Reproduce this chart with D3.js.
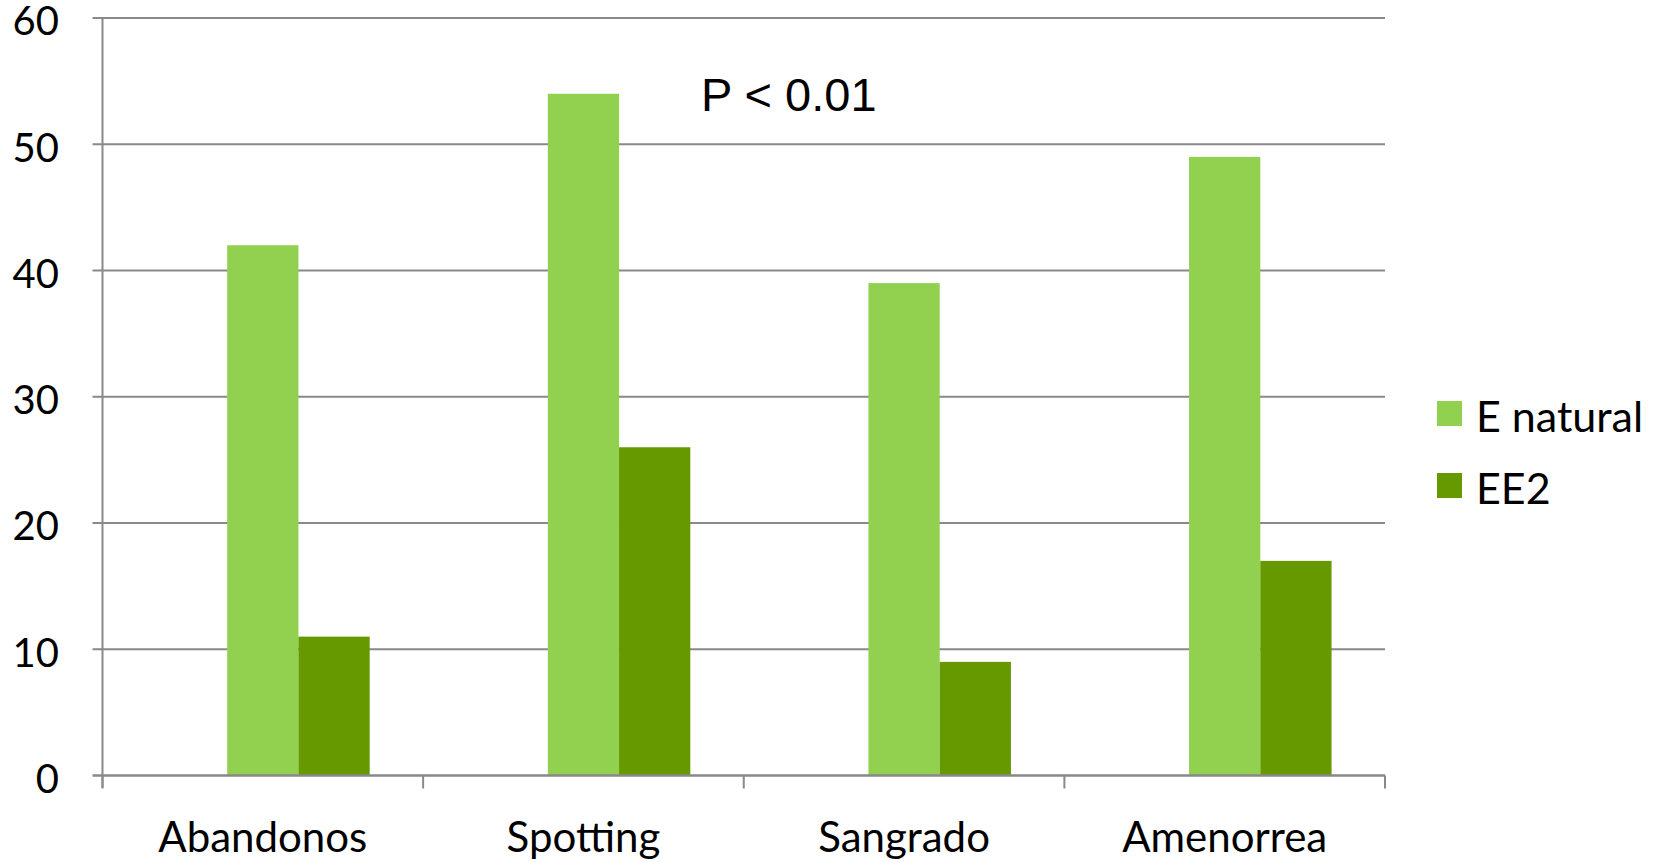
<!DOCTYPE html>
<html>
<head>
<meta charset="utf-8">
<script src="https://cdn.jsdelivr.net/npm/d3@7"></script>
<style>
  html, body { margin: 0; padding: 0; background: #fff; }
  svg text { font-family: Lato, "Open Sans", sans-serif; fill: #000; }
</style>
</head>
<body>
<svg id="chart" width="1659" height="862"></svg>
<script>
// Categories and series values
const categories = ["Abandonos", "Spotting", "Sangrado", "Amenorrea"];
const seriesNames = ["E natural", "EE2"];
const eNatural = [42, 54, 39, 49];
const ee2 = [11, 26, 9, 17];
const yTicks = [0, 10, 20, 30, 40, 50, 60];
const seriesColors = ["#92D050", "#669900"];
const annotation = "P < 0.01";

const svg = d3.select("#chart");
const margin = { left: 102.5, right: 1385, top: 18, bottom: 775.5 };

const x0 = d3.scaleBand()
  .domain(categories)
  .range([margin.left, margin.right])
  .paddingInner(0).paddingOuter(0);

// Three slots per category (first slot left empty), gap width 150%
const x1 = d3.scaleBand()
  .domain([0, 1, 2])
  .range([0, x0.bandwidth()])
  .paddingInner(0).paddingOuter(0.75);

const y = d3.scaleLinear().domain([0, 60]).range([margin.bottom, margin.top]);

const grey = "#898989";

// Horizontal gridlines, extended left as tick marks
svg.append("g").selectAll("line")
  .data(yTicks.filter(d => d > 0))
  .join("line")
  .attr("x1", margin.left - 10).attr("x2", margin.right)
  .attr("y1", d => y(d)).attr("y2", d => y(d))
  .attr("stroke", grey).attr("stroke-width", 2);

// Y tick labels
svg.append("g").selectAll("text")
  .data(yTicks)
  .join("text")
  .attr("x", 59).attr("y", d => y(d) + 3)
  .attr("dy", "0.36em")
  .attr("text-anchor", "end")
  .style("font-size", "40px")
  .text(d => d);

// Bars
const series = [eNatural, ee2];
series.forEach((vals, si) => {
  svg.append("g").selectAll("rect")
    .data(vals)
    .join("rect")
    .attr("x", (d, i) => x0(categories[i]) + x1(si + 1))
    .attr("width", x1.bandwidth())
    .attr("y", d => y(d))
    .attr("height", d => y(0) - y(d))
    .attr("fill", seriesColors[si]);
});

// Axes lines
svg.append("line")
  .attr("x1", margin.left).attr("x2", margin.left)
  .attr("y1", margin.top).attr("y2", margin.bottom + 12)
  .attr("stroke", grey).attr("stroke-width", 2);
svg.append("line")
  .attr("x1", margin.left - 10).attr("x2", margin.right)
  .attr("y1", y(0)).attr("y2", y(0))
  .attr("stroke", grey).attr("stroke-width", 2.5);

// X category dividers
const dividers = categories.map(c => x0(c)).concat([margin.right]);
svg.append("g").selectAll("line")
  .data(dividers)
  .join("line")
  .attr("x1", d => d).attr("x2", d => d)
  .attr("y1", y(0)).attr("y2", y(0) + 13)
  .attr("stroke", grey).attr("stroke-width", 2);

// X labels
svg.append("g").selectAll("text")
  .data(categories)
  .join("text")
  .attr("x", d => x0(d) + x0.bandwidth() / 2)
  .attr("y", 852)
  .attr("text-anchor", "middle")
  .style("font-size", "42px")
  .text(d => d);

// Annotation
svg.append("text")
  .attr("x", 701).attr("y", 111)
  .style("font-family", "'Liberation Sans', Arial, sans-serif")
  .style("font-size", "47px")
  .text(annotation);

// Legend
const legend = svg.append("g");
seriesNames.forEach((name, i) => {
  const yy = 401 + i * 72;
  legend.append("rect")
    .attr("x", 1437).attr("y", yy)
    .attr("width", 25).attr("height", 25)
    .attr("fill", seriesColors[i]);
  legend.append("text")
    .attr("x", 1476).attr("y", yy + 31)
    .style("font-size", "43px")
    .text(name);
});
</script>
</body>
</html>
